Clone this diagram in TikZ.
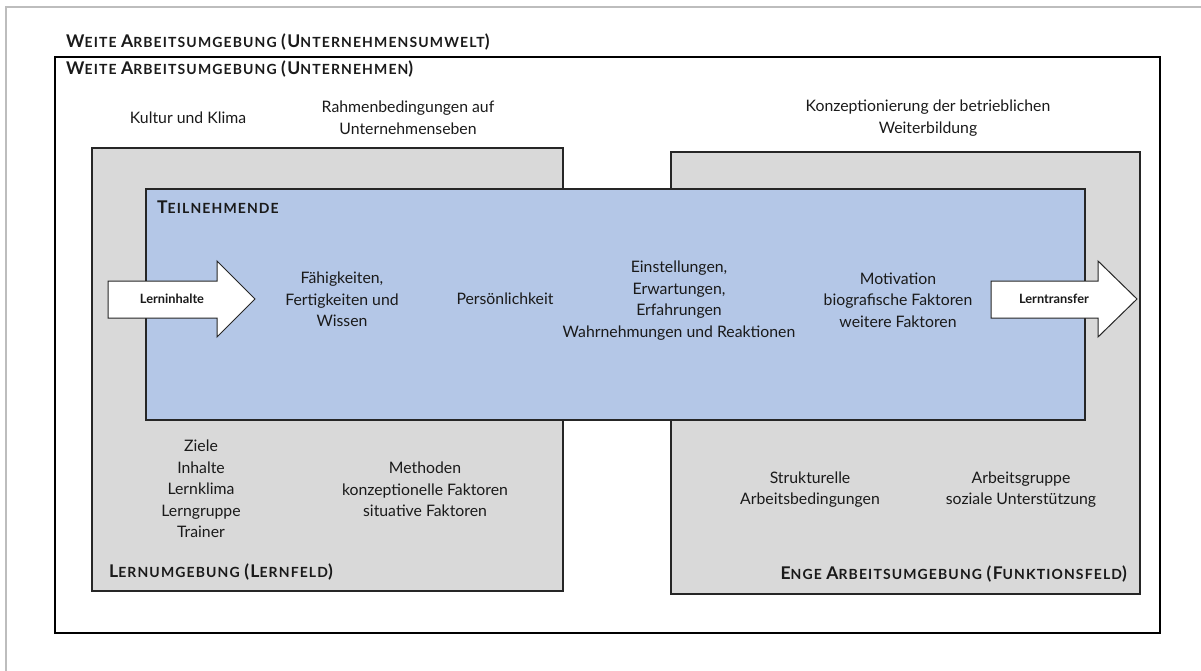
\documentclass[tikz,border=0pt]{standalone}
\usepackage{fontspec}
\setmainfont{Lato}
\definecolor{boxgray}{HTML}{D9D9D9}
\definecolor{tnblue}{HTML}{B4C7E7}
\definecolor{txt}{HTML}{1A1A1A}
\definecolor{framegray}{HTML}{BDBDBD}
\newcommand{\BC}[1]{{\fontsize{17.5}{18}\selectfont #1}}
\tikzset{
  body/.style={font=\fontsize{15.8}{21.5}\selectfont, align=center, text=txt, inner sep=0pt},
  head/.style={font=\fontsize{14}{16}\selectfont\bfseries\addfontfeature{LetterSpace=8}, text=txt, inner sep=0pt},
  graybox/.style={fill=boxgray, draw=black!85, line width=1.5pt},
  bluebox/.style={fill=tnblue, draw=black!85, line width=1.5pt},
  arrowshape/.style={fill=white, draw=black!85, line width=1pt, line join=miter},
  arrowlabel/.style={font=\fontsize{12.8}{14}\selectfont\bfseries, text=txt, inner sep=0pt},
}
\begin{document}
\begin{tikzpicture}[x=1pt,y=-1pt]
\useasboundingbox (0,0) rectangle (1201,671);
% frame lines (top and left only)
\draw[framegray, line width=1.5pt] (6,671) -- (6,7) -- (1201,7);
% outer black rectangle
\draw[black, line width=2pt] (55,57) rectangle (1160,633);
\node[head, anchor=west] (h1) at (66,42) {\BC{W}EITE \BC{A}RBEITSUMGEBUNG \BC{(U}NTERNEHMENSUMWELT\BC{)}};
\node[head, anchor=west] (h2) at (66,69) {\BC{W}EITE \BC{A}RBEITSUMGEBUNG \BC{(U}NTERNEHMEN\BC{)}};
\node[body] (kultur) at (188,118) {Kultur und Klima};
\node[body] (rahmen) at (408,118) {Rahmenbedingungen auf\\Unternehmenseben};
\node[body] (konz) at (928,118) {Konzeptionierung der betrieblichen\\Weiterbildung};
% gray boxes
\draw[graybox] (92,148) rectangle (563,591);
\draw[graybox] (671,152) rectangle (1140,594);
% blue box
\draw[bluebox] (146,189) rectangle (1085,420);
\node[head, anchor=west] (tn) at (157,207) {\BC{T}EILNEHMENDE};
% arrows
\draw[arrowshape] (108,281) -- (217,281) -- (217,261) -- (255,299) -- (217,337) -- (217,318) -- (108,318) -- cycle;
\node[arrowlabel] (lin) at (172,299) {Lerninhalte};
\draw[arrowshape] (991,281) -- (1098,281) -- (1098,261) -- (1137,299) -- (1098,337) -- (1098,318) -- (991,318) -- cycle;
\node[arrowlabel] (ltr) at (1054,299) {Lerntransfer};
% participant texts
\node[body] (faeh) at (342,299.5) {Fähigkeiten,\\Fertigkeiten und\\Wissen};
\node[body] (pers) at (505,299) {Persönlichkeit};
\node[body] (einst) at (679,300.5) {Einstellungen,\\Erwartungen,\\Erfahrungen\\Wahrnehmungen und Reaktionen};
\node[body] (motiv) at (898,300) {Motivation\\biografische Faktoren\\weitere Faktoren};
% learning field texts
\node[body] (ziele) at (201,489) {Ziele\\Inhalte\\Lernklima\\Lerngruppe\\Trainer};
\node[body] (meth) at (425,489.5) {Methoden\\konzeptionelle Faktoren\\situative Faktoren};
\node[head, anchor=west] (lf) at (109,572) {\BC{L}ERNUMGEBUNG \BC{(L}ERNFELD\BC{)}};
% function field texts
\node[body] (strukt) at (810,489.5) {Strukturelle\\Arbeitsbedingungen};
\node[body] (agr) at (1021,489.5) {Arbeitsgruppe\\soziale Unterstützung};
\node[head, anchor=east] (ff) at (1127,574) {\BC{E}NGE \BC{A}RBEITSUMGEBUNG \BC{(F}UNKTIONSFELD\BC{)}};
\end{tikzpicture}
\end{document}
